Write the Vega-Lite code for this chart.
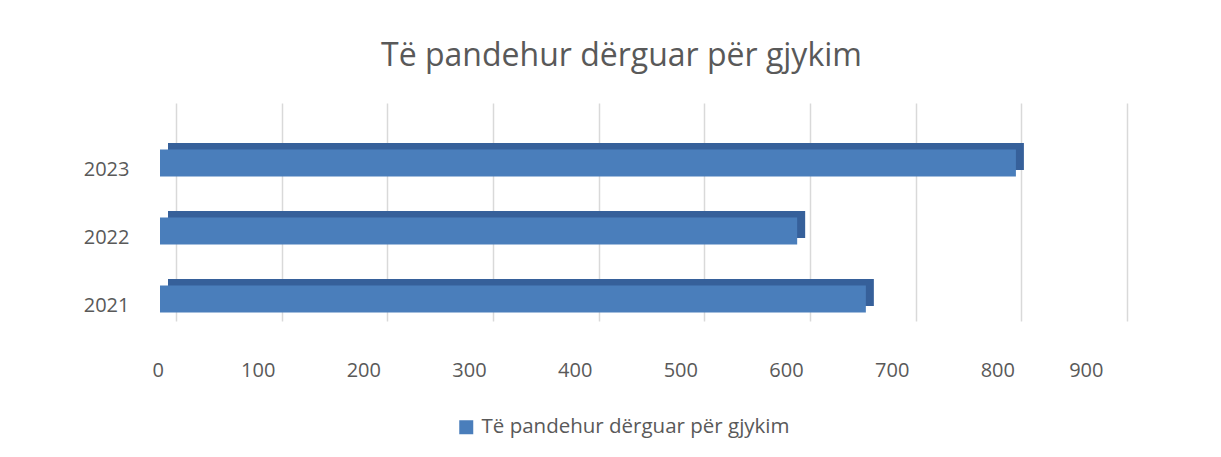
{
  "$schema": "https://vega.github.io/schema/vega-lite/v6.json",
  "autosize": "none",
  "width": 951,
  "height": 218,
  "padding": {"left": 176, "top": 103, "right": 94, "bottom": 136},
  "background": "white",
  "title": {
    "text": "Të pandehur dërguar për gjykim",
    "font": "Open Sans",
    "fontSize": 32,
    "fontWeight": "normal",
    "color": "#595959",
    "dx": -30,
    "offset": 30
  },
  "data": {
    "values": [
      {"year": "2021", "value": 668, "series": "Të pandehur dërguar për gjykim"},
      {"year": "2022", "value": 603, "series": "Të pandehur dërguar për gjykim"},
      {"year": "2023", "value": 810, "series": "Të pandehur dërguar për gjykim"}
    ]
  },
  "encoding": {
    "y": {
      "field": "year",
      "type": "nominal",
      "sort": "descending",
      "scale": {"paddingInner": 0.603, "paddingOuter": 0.404},
      "axis": {
        "title": null,
        "domain": false,
        "ticks": false,
        "grid": false,
        "labelPadding": 47,
        "labelOffset": 26,
        "labelFont": "Open Sans",
        "labelFontSize": 20,
        "labelColor": "#595959"
      }
    },
    "x": {
      "field": "value",
      "type": "quantitative",
      "scale": {"domain": [0, 900], "nice": false},
      "axis": {
        "title": null,
        "domain": false,
        "ticks": false,
        "grid": true,
        "gridColor": "#D9D9D9",
        "gridWidth": 1.5,
        "values": [0, 100, 200, 300, 400, 500, 600, 700, 800, 900],
        "labelOffset": -24,
        "labelPadding": 39,
        "labelFont": "Open Sans",
        "labelFontSize": 20,
        "labelColor": "#595959"
      }
    }
  },
  "layer": [
    {
      "mark": {"type": "bar", "color": "#36609A", "xOffset": -8, "x2Offset": -8, "yOffset": 12.5, "y2Offset": 12.5}
    },
    {
      "mark": {"type": "bar", "xOffset": -16, "x2Offset": -16, "yOffset": 19, "y2Offset": 19},
      "encoding": {
        "color": {
          "field": "series",
          "type": "nominal",
          "scale": {"range": ["#4A7EBB"]},
          "legend": {
            "title": null,
            "orient": "none",
            "legendX": 280,
            "legendY": 314,
            "symbolType": "square",
            "symbolSize": 196,
            "symbolStrokeWidth": 0,
            "labelFont": "Open Sans",
            "labelFontSize": 20.5,
            "labelColor": "#595959",
            "labelOffset": 5,
            "labelLimit": 0
          }
        }
      }
    }
  ],
  "config": {"view": {"stroke": null}}
}
